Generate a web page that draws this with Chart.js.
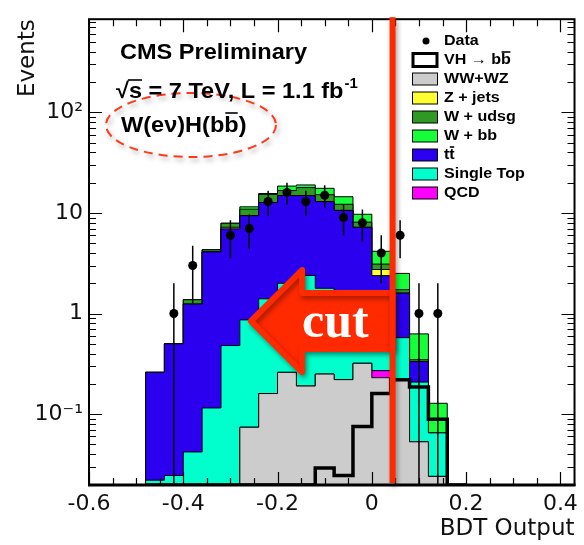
<!DOCTYPE html>
<html>
<head>
<meta charset="utf-8">
<script src="https://cdn.jsdelivr.net/npm/chart.js@4.4.0/dist/chart.umd.min.js"></script>
<style>
  html, body { margin: 0; padding: 0; background: #fff; }
  canvas { display: block; }
</style>
</head>
<body>
<canvas id="bdtChart" width="584" height="545"></canvas>
<script>
// BDT output for W(enu)H(bb), bins of 0.04
const binEdges = [-0.48, -0.44, -0.40, -0.36, -0.32, -0.28, -0.24, -0.20, -0.16,
                  -0.12, -0.08, -0.04, 0.00, 0.04, 0.08, 0.12, 0.16, 0.20];

// expected events per bin, per process
const wwwz      = [0, 0, 0, 0, 0, 0.074, 0.16, 0.26, 0.19, 0.25, 0.22, 0.32, 0.23, 0.225, 0.053, 0.024, 0];
const qcd       = [0, 0, 0, 0, 0, 0, 0, 0, 0, 0, 0, 0, 0.04, 0, 0, 0, 0];
const singleTop = [0.022, 0.0245, 0.042, 0.115, 0.48, 0.79, 1.24, 1.74, 2.2, 1.53, 0.98, 0.48, 0.33, 0.35, 0.155, 0.041, 0];
const ttbar     = [0.238, 0.475, 1.2, 3.99, 6.47, 8.54, 11.3, 12.9, 12.5, 11.2, 9.4, 6.4, 1.78, 1.02, 0.124, 0, 0];
const zjets     = [0, 0, 0, 0, 0.25, 0, 0, 0, 0, 0, 0, 0, 0.36, 0, 0, 0, 0];
const wudsg     = [0, 0, 0.13, 0.2, 0.7, 1.5, 2.6, 1.8, 3.0, 2.2, 1.6, 0.9, 0.36, 0.13, 0.015, 0, 0];
const wbb       = [0, 0, 0, 0, 0, 0.6, 0.3, 1.8, 1.1, 2.4, 2.3, 1.6, 1.06, 0.78, 0.28, 0.063, 0];
const vhSignal  = [0, 0, 0, 0, 0, 0, 0, 0, 0, 0.029, 0.0245, 0.075, 0.16, 0.22, 0.186, 0.089, 0];
const dataCounts = [0, 1, 3, 0, 6, 7, 13, 16, 13, 15, 9, 8, 4, 6, 1, 1, 0];

const xTickValues = [-0.6, -0.4, -0.2, 0, 0.2, 0.4];
const xTickLabels = ['-0.6', '-0.4', '-0.2', '0', '0.2', '0.4'];
const yTickValues = [0.1, 1, 10, 100];
const yTickLabels = ['10\u207B\u00B9', '1', '10', '10\u00B2'];

const cutValue = 0.044;

const X_MIN = -0.6, X_MAX = 0.43;
const Y_MIN = 0.0197, Y_MAX = 845;
const FLOOR = 1e-3;

const binCenters = binEdges.slice(0, -1).map((e, i) => (e + binEdges[i + 1]) / 2);

// stack, bottom first
const layers = [
  { label: 'WW+WZ', values: wwwz, color: '#cccccc' },
  { label: 'QCD', values: qcd, color: '#ff00ff' },
  { label: 'Single Top', values: singleTop, color: '#00ffcc' },
  { label: 'tt', values: ttbar, color: '#2a00ee' },
  { label: 'Z + jets', values: zjets, color: '#ffff33' },
  { label: 'W + udsg', values: wudsg, color: '#2e9a24' },
  { label: 'W + bb', values: wbb, color: '#16ff38' },
];

// histogram outline as step points through the bin edges
function stepPoints(vals, floor) {
  const n = vals.length;
  const pts = [{ x: binEdges[0], y: floor }];
  vals.forEach((v, i) => pts.push({ x: binEdges[i], y: Math.max(v, floor) }));
  pts.push({ x: binEdges[n], y: Math.max(vals[n - 1], floor) });
  pts.push({ x: binEdges[n], y: floor });
  return pts;
}

let running = new Array(binCenters.length).fill(0);
const stackSets = layers.map(l => {
  running = running.map((r, i) => r + l.values[i]);
  return {
    label: l.label,
    data: stepPoints(running, FLOOR),
    stepped: true,
    fill: 'start',
    backgroundColor: l.color,
    borderColor: '#000',
    borderWidth: 1,
    pointRadius: 0,
  };
});

const datasets = [
  {
    label: 'Data',
    data: dataCounts.map((n, i) => ({ x: binCenters[i], y: n })).filter(p => p.y > 0),
    showLine: false,
    pointRadius: 4.5,
    pointBackgroundColor: '#000',
    pointBorderWidth: 0,
  },
  {
    label: 'VH',
    data: stepPoints(vhSignal, Y_MIN),
    stepped: true,
    fill: false,
    borderColor: '#000',
    borderWidth: 3.5,
    pointRadius: 0,
  },
  ...stackSets,
];

// sqrt(N) error bars on the data points
const errorBars = {
  id: 'errorBars',
  afterDatasetsDraw(chart) {
    const { ctx, chartArea: a, scales: { x, y } } = chart;
    ctx.save();
    ctx.beginPath();
    ctx.rect(a.left, a.top, a.right - a.left, a.bottom - a.top);
    ctx.clip();
    ctx.strokeStyle = '#000';
    ctx.lineWidth = 1.5;
    ctx.beginPath();
    dataCounts.forEach((n, i) => {
      if (!n) return;
      const px = x.getPixelForValue(binCenters[i]);
      const hi = y.getPixelForValue(n + Math.sqrt(n));
      const lo = n - Math.sqrt(n) > Y_MIN ? y.getPixelForValue(n - Math.sqrt(n)) : a.bottom;
      ctx.moveTo(px, hi);
      ctx.lineTo(px, lo);
    });
    ctx.stroke();
    ctx.restore();
  }
};

function sText(ctx, text, x, y, sx) {
  ctx.save();
  ctx.translate(x, y);
  ctx.scale(sx, 1);
  ctx.fillText(text, 0, 0);
  ctx.restore();
  return ctx.measureText(text).width * sx;
}

function overbar(ctx, x0, x1, y) {
  ctx.save();
  ctx.strokeStyle = ctx.fillStyle;
  ctx.lineWidth = 1.6;
  ctx.beginPath();
  ctx.moveTo(x0, y);
  ctx.lineTo(x1, y);
  ctx.stroke();
  ctx.restore();
}

// ROOT-like frame: ticks inside on all four sides
const frame = {
  id: 'frame',
  afterDraw(chart) {
    const { ctx, chartArea: a, scales: { x, y } } = chart;
    ctx.save();
    ctx.strokeStyle = '#000';
    ctx.lineWidth = 1.2;
    ctx.beginPath();
    for (let k = Math.ceil(X_MIN / 0.05 - 1e-6); k * 0.05 <= X_MAX + 1e-9; k++) {
      const px = Math.round(x.getPixelForValue(k * 0.05)) + 0.5;
      const len = k % 4 === 0 ? 13 : 7;
      ctx.moveTo(px, a.bottom); ctx.lineTo(px, a.bottom - len);
      ctx.moveTo(px, a.top); ctx.lineTo(px, a.top + len);
    }
    for (let d = -2; d <= 2; d++) {
      for (let m = 1; m <= 9; m++) {
        const v = m * Math.pow(10, d);
        if (v < Y_MIN || v > Y_MAX) continue;
        const py = Math.round(y.getPixelForValue(v)) + 0.5;
        const len = m === 1 ? 13 : 7;
        ctx.moveTo(a.left, py); ctx.lineTo(a.left + len, py);
        ctx.moveTo(a.right, py); ctx.lineTo(a.right - len, py);
      }
    }
    ctx.stroke();
    ctx.lineWidth = 2;
    ctx.strokeRect(a.left, a.top, a.right - a.left, a.bottom - a.top);
    ctx.lineWidth = 3;
    ctx.beginPath();
    ctx.moveTo(a.left - 1, a.bottom);
    ctx.lineTo(a.right + 1, a.bottom);
    ctx.stroke();
    ctx.restore();
  }
};

// cut line, arrow and the circled channel label
const cutMarks = {
  id: 'cutMarks',
  afterDraw(chart) {
    const { ctx, chartArea: a, scales: { x, y } } = chart;
    const red = '#ff2a00';
    const cx = x.getPixelForValue(cutValue);
    const tipX = x.getPixelForValue(-0.265);
    const neckX = x.getPixelForValue(-0.148);
    const midY = y.getPixelForValue(0.84);
    ctx.save();
    ctx.shadowColor = 'rgba(0,0,0,0.35)';
    ctx.shadowBlur = 5;
    ctx.shadowOffsetX = 2;
    ctx.shadowOffsetY = 3;

    ctx.fillStyle = red;
    ctx.strokeStyle = red;
    ctx.lineJoin = 'round';
    ctx.lineWidth = 6;
    ctx.beginPath();
    ctx.moveTo(cx, midY - 28);
    ctx.lineTo(neckX, midY - 28);
    ctx.lineTo(neckX, midY - 51);
    ctx.lineTo(tipX + 4, midY);
    ctx.lineTo(neckX, midY + 51);
    ctx.lineTo(neckX, midY + 28);
    ctx.lineTo(cx, midY + 28);
    ctx.closePath();
    ctx.fill();
    ctx.stroke();

    ctx.fillRect(cx - 3, a.top - 2, 6, a.bottom - a.top);

    ctx.lineWidth = 2;
    ctx.setLineDash([9, 6]);
    ctx.strokeStyle = '#ff3a1a';
    ctx.beginPath();
    ctx.ellipse(191, 125, 85, 32, 0, 0, Math.PI * 2);
    ctx.stroke();
    ctx.restore();

    ctx.save();
    ctx.fillStyle = '#fff';
    ctx.font = 'bold 50px "Liberation Serif"';
    ctx.textBaseline = 'alphabetic';
    ctx.fillText('cut', 302, midY + 16);
    ctx.restore();
  }
};

// header text and legend
const labels = {
  id: 'labels',
  afterDraw(chart) {
    const { ctx } = chart;
    const S = 1.07;
    ctx.save();
    ctx.fillStyle = '#000';
    ctx.textBaseline = 'alphabetic';
    ctx.font = 'bold 22px "Liberation Sans"';
    sText(ctx, 'CMS Preliminary', 120, 59, S);

    let px = 116;
    const w1 = sText(ctx, '\u221A', px, 98, S);
    const ws = sText(ctx, 's', px + w1, 98, S);
    overbar(ctx, px + w1 - 1, px + w1 + ws, 80);
    px += w1 + ws;
    px += sText(ctx, ' = 7 TeV, L = 1.1 fb', px, 98, S);
    ctx.font = 'bold 14px "Liberation Sans"';
    sText(ctx, '-1', px + 1, 88, S);

    ctx.font = 'bold 22px "Liberation Sans"';
    const pre = sText(ctx, 'W(e\u03BD)H(b', 121, 132, S);
    const wb = sText(ctx, 'b', 121 + pre, 132, S);
    sText(ctx, ')', 121 + pre + wb, 132, S);
    overbar(ctx, 121 + pre + 1, 121 + pre + wb - 1, 113);

    // legend
    const rows = [
      { text: 'Data', kind: 'dot' },
      { text: 'VH \u2192 bb', kind: 'signal', bar: 'b' },
      { text: 'WW+WZ', color: layers[0].color },
      { text: 'Z + jets', color: layers[4].color },
      { text: 'W + udsg', color: layers[5].color },
      { text: 'W + bb', color: layers[6].color },
      { text: 'tt', color: layers[3].color, bar: 't' },
      { text: 'Single Top', color: layers[2].color },
      { text: 'QCD', color: layers[1].color },
    ];
    ctx.font = 'bold 15px "Liberation Sans"';
    ctx.textBaseline = 'middle';
    rows.forEach((r, i) => {
      const ry = 41 + 19 * i;
      if (r.kind === 'dot') {
        ctx.beginPath();
        ctx.arc(426, ry, 3.5, 0, Math.PI * 2);
        ctx.fill();
      } else if (r.kind === 'signal') {
        ctx.fillStyle = '#fff';
        ctx.fillRect(413, ry - 6.5, 24, 13);
        ctx.strokeStyle = '#000';
        ctx.lineWidth = 3;
        ctx.strokeRect(413, ry - 6.5, 24, 13);
        ctx.fillStyle = '#000';
      } else {
        ctx.fillStyle = r.color;
        ctx.fillRect(412.5, ry - 6, 25, 12);
        ctx.strokeStyle = '#000';
        ctx.lineWidth = 1;
        ctx.strokeRect(412.5, ry - 6, 25, 12);
        ctx.fillStyle = '#000';
      }
      const w = sText(ctx, r.text, 444, ry, S);
      if (r.bar) {
        const wl = ctx.measureText(r.bar).width * S;
        overbar(ctx, 444 + w - wl + 0.5, 444 + w - 0.5, ry - 8);
      }
    });
    ctx.restore();
  }
};

new Chart(document.getElementById('bdtChart'), {
  type: 'line',
  data: { datasets },
  options: {
    responsive: false,
    animation: false,
    layout: { padding: { top: 14, right: 4, left: 0, bottom: 0 } },
    plugins: { legend: { display: false }, tooltip: { enabled: false } },
    elements: { line: { tension: 0 } },
    scales: {
      x: {
        type: 'linear',
        min: X_MIN,
        max: X_MAX,
        afterBuildTicks: s => { s.ticks = xTickValues.map(v => ({ value: v })); },
        afterFit: s => { s.height = 60; },
        grid: { display: false, drawTicks: false },
        border: { display: false },
        ticks: {
          padding: 6,
          color: '#111',
          autoSkip: false,
          maxRotation: 0,
          font: { family: 'DejaVu Sans', size: 22 },
          callback: (v, i) => xTickLabels[i],
        },
        title: {
          display: true,
          text: 'BDT Output',
          align: 'end',
          color: '#111',
          font: { family: 'DejaVu Sans', size: 23 },
          padding: { top: 0, bottom: 2 },
        },
      },
      y: {
        type: 'logarithmic',
        min: Y_MIN,
        max: Y_MAX,
        afterBuildTicks: s => { s.ticks = yTickValues.map(v => ({ value: v })); },
        afterFit: s => { s.width = 89; },
        grid: { display: false, drawTicks: false },
        border: { display: false },
        ticks: {
          padding: 6,
          color: '#111',
          autoSkip: false,
          font: { family: 'DejaVu Sans', size: 22 },
          callback: (v, i) => yTickLabels[i],
        },
        title: {
          display: true,
          text: 'Events',
          align: 'end',
          color: '#111',
          font: { family: 'DejaVu Sans', size: 23 },
          padding: { top: 14, bottom: 0 },
        },
      },
    },
  },
  plugins: [errorBars, frame, cutMarks, labels],
});
</script>
</body>
</html>
